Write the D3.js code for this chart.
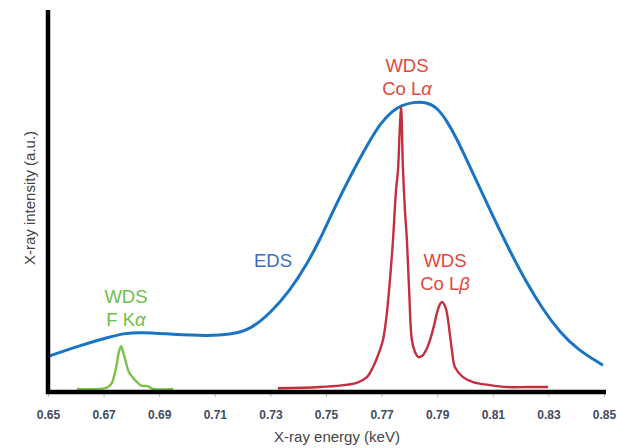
<!DOCTYPE html>
<html>
<head>
<meta charset="utf-8">
<script src="https://cdn.jsdelivr.net/npm/d3@7"></script>
<style>
  html, body { margin: 0; padding: 0; background: #fff; }
  svg { display: block; }
</style>
</head>
<body>
<svg id="chart" width="617" height="448"></svg>
<script>
// Energy axis ticks (keV)
const xTicks = [0.65, 0.67, 0.69, 0.71, 0.73, 0.75, 0.77, 0.79, 0.81, 0.83, 0.85];

// EDS spectrum: energy (keV) and intensity (a.u.)
const edsEnergy = [0.650, 0.6615, 0.6723, 0.677, 0.6831, 0.695, 0.7072, 0.7155, 0.7227, 0.7299, 0.7371, 0.7432, 0.7478, 0.7514, 0.7561, 0.7612, 0.7658, 0.7694, 0.7741, 0.7773, 0.7813, 0.7863, 0.7899, 0.7935, 0.7971, 0.7993, 0.8043, 0.8101, 0.8162, 0.8223, 0.8281, 0.8342, 0.8403, 0.8496];
const edsIntensity = [9.3, 12.2, 14.4, 15.3, 15.7, 15.1, 14.7, 15.0, 16.3, 20.6, 26.6, 33.5, 39.9, 45.6, 52.7, 59.9, 65.8, 70.2, 73.8, 75.0, 75.9, 75.9, 74.5, 71.0, 66.2, 62.8, 55.0, 45.9, 36.8, 28.4, 21.5, 15.6, 11.2, 7.0];

// WDS Co L spectrum
const coEnergy = [0.7327, 0.7478, 0.7611, 0.7647, 0.7669, 0.7694, 0.7705, 0.7716, 0.7730, 0.7741, 0.7752, 0.7759, 0.7766, 0.7770, 0.7777, 0.7784, 0.7791, 0.7799, 0.7809, 0.7820, 0.7831, 0.7845, 0.7860, 0.7874, 0.7889, 0.7899, 0.7910, 0.7917, 0.7928, 0.7935, 0.7946, 0.7953, 0.7964, 0.7993, 0.8029, 0.8090, 0.8151, 0.8227, 0.8299];
const coIntensity = [1.0, 1.3, 2.4, 3.9, 6.5, 11.0, 13.6, 18.8, 29.3, 39.8, 52.9, 58.1, 69.9, 74.6, 58.1, 47.6, 39.8, 26.7, 13.6, 10.5, 9.2, 9.4, 11.0, 13.6, 17.5, 20.7, 23.0, 23.6, 22.5, 20.7, 14.9, 11.0, 6.5, 3.9, 2.6, 1.8, 1.3, 1.3, 1.3];

// WDS F K spectrum
const fEnergy = [0.6604, 0.6687, 0.6716, 0.6730, 0.6745, 0.6755, 0.6763, 0.6770, 0.6781, 0.6791, 0.6806, 0.6820, 0.6838, 0.6853, 0.6862, 0.6878, 0.6950];
const fIntensity = [0.8, 0.8, 1.3, 2.4, 6.5, 10.5, 12.0, 10.5, 7.6, 5.2, 3.7, 2.6, 1.6, 1.6, 1.4, 0.8, 0.8];

const svg = d3.select("#chart");
const x = d3.scaleLinear().domain([0.65, 0.85]).range([48, 604]);
const y = d3.scaleLinear().domain([0, 100]).range([392, 10]);

const zip = (a, b) => a.map((v, i) => [v, b[i]]);
const sharpLine = d3.line()
  .x(d => x(d[0]))
  .y(d => y(d[1]))
  .curve(d3.curveCatmullRom.alpha(0.5));
const smoothLine = d3.line()
  .x(d => x(d[0]))
  .y(d => y(d[1]))
  .curve(d3.curveBasis);

// x axis with small grey ticks
const xAxis = d3.axisBottom(x)
  .tickValues(xTicks)
  .tickSize(4)
  .tickPadding(13)
  .tickFormat(d3.format(".2f"));
const gx = svg.append("g").attr("transform", "translate(0,393)").call(xAxis);
gx.select(".domain").remove();
gx.selectAll(".tick line").attr("stroke", "#b8b8b8").attr("stroke-width", 1);
gx.selectAll(".tick text")
  .attr("fill", "#3f4b63")
  .attr("font-family", "'Liberation Sans Narrow', 'Liberation Sans', Arial, sans-serif")
  .attr("font-weight", "bold")
  .attr("font-size", 12);

// curves
svg.append("path").datum(zip(fEnergy, fIntensity))
  .attr("d", sharpLine).attr("fill", "none")
  .attr("stroke", "#7ac24c").attr("stroke-width", 2.4);
svg.append("path").datum(zip(edsEnergy, edsIntensity))
  .attr("d", smoothLine).attr("fill", "none")
  .attr("stroke", "#1a74c6").attr("stroke-width", 3);
svg.append("path").datum(zip(coEnergy, coIntensity))
  .attr("d", sharpLine).attr("fill", "none")
  .attr("stroke", "#c2303d").attr("stroke-width", 2.4)
  .attr("stroke-linejoin", "round");

// thick black axis lines
svg.append("line").attr("x1", x(0.65)).attr("x2", x(0.65))
  .attr("y1", y(100)).attr("y2", 394)
  .attr("stroke", "#000").attr("stroke-width", 4.5);
svg.append("line").attr("x1", 46).attr("x2", 606)
  .attr("y1", 392).attr("y2", 392)
  .attr("stroke", "#000").attr("stroke-width", 4.5);

// axis titles
const titleFont = "'Liberation Sans', Arial, sans-serif";
svg.append("text")
  .attr("x", 337).attr("y", 442)
  .attr("text-anchor", "middle")
  .attr("font-family", titleFont).attr("font-size", 15)
  .attr("fill", "#444")
  .text("X-ray energy (keV)");
svg.append("text")
  .attr("transform", "translate(35,198) rotate(-90)")
  .attr("text-anchor", "middle")
  .attr("font-family", titleFont).attr("font-size", 15)
  .attr("fill", "#444")
  .text("X-ray intensity (a.u.)");

// peak labels
function label(cx, baseline, lines, color) {
  lines.forEach((ln, i) => {
    const t = svg.append("text")
      .attr("x", cx).attr("y", baseline + i * 22.5)
      .attr("text-anchor", "middle")
      .attr("font-family", titleFont).attr("font-size", 18.5)
      .attr("fill", color);
    t.append("tspan").text(ln[0]);
    if (ln[1]) t.append("tspan").attr("font-style", "italic").text(ln[1]);
  });
}
label(126, 303, [["WDS"], ["F K", "α"]], "#6dbf48");
label(407, 72, [["WDS"], ["Co L", "α"]], "#e4473b");
label(445, 267, [["WDS"], ["Co L", "β"]], "#e4473b");
label(273, 267, [["EDS"]], "#3e6cbf");
</script>
</body>
</html>
